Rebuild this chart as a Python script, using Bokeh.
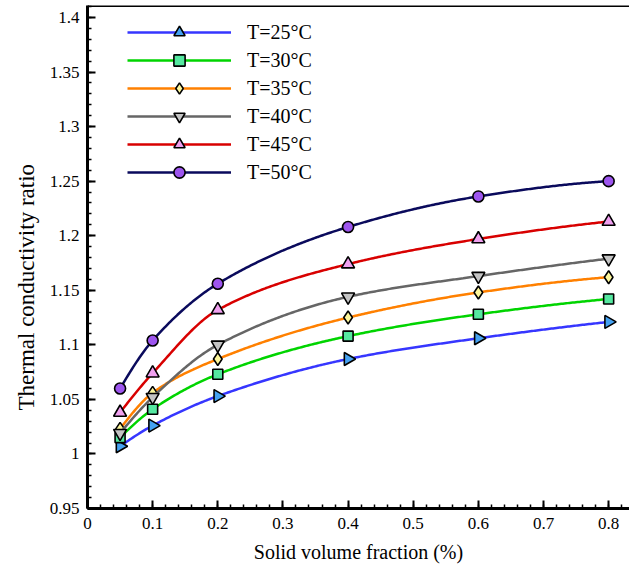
import math
import numpy as np
from bokeh.plotting import figure
from bokeh.models import (Range1d, SingleIntervalTicker, Legend, LegendItem, Span,
                          CustomJSTickFormatter, Title)
from bokeh.embed import file_html
from bokeh.resources import INLINE

# ---------------- data ----------------
phi = [0.05, 0.1, 0.2, 0.4, 0.6, 0.8]
k25 = [1.007, 1.026, 1.053, 1.087, 1.106, 1.121]
k30 = [1.015, 1.041, 1.073, 1.108, 1.128, 1.142]
k35 = [1.023, 1.056, 1.087, 1.125, 1.148, 1.162]
k40 = [1.019, 1.052, 1.100, 1.144, 1.163, 1.179]
k45 = [1.038, 1.074, 1.132, 1.174, 1.197, 1.213]
k50 = [1.060, 1.104, 1.156, 1.208, 1.236, 1.250]
labels = ["T=25°C", "T=30°C", "T=35°C", "T=40°C", "T=45°C", "T=50°C"]
x_title = "Solid volume fraction (%)"
y_title = "Thermal conductivity ratio"

series = [k25, k30, k35, k40, k45, k50]
line_colors = ["#3636ff", "#00d400", "#ff8000", "#666666", "#d80000", "#0a0a5c"]
fill_colors = ["#45a2f2", "#55e8a0", "#fdf79c", "#c4c4c4", "#f0a0f0", "#9d55ee"]
markers = ["triangle", "square", "diamond", "inverted_triangle", "triangle", "circle"]
angles = [-math.pi / 2, 0, 0, 0, 0, 0]
sizes = [13, 10, 13, 13, 13, 11]


def pchip(x, y, xs):
    x = np.asarray(x, float)
    y = np.asarray(y, float)
    h = np.diff(x)
    d = np.diff(y) / h
    n = len(x)
    m = np.zeros(n)
    for k in range(1, n - 1):
        if d[k - 1] * d[k] > 0:
            w1 = 2 * h[k] + h[k - 1]
            w2 = h[k] + 2 * h[k - 1]
            m[k] = (w1 + w2) / (w1 / d[k - 1] + w2 / d[k])

    def end(h0, h1, d0, d1):
        mm = ((2 * h0 + h1) * d0 - h0 * d1) / (h0 + h1)
        if np.sign(mm) != np.sign(d0):
            mm = 0.0
        elif np.sign(d0) != np.sign(d1) and abs(mm) > abs(3 * d0):
            mm = 3 * d0
        return mm

    m[0] = end(h[0], h[1], d[0], d[1])
    m[-1] = end(h[-1], h[-2], d[-1], d[-2])
    idx = np.clip(np.searchsorted(x, xs) - 1, 0, n - 2)
    t = (xs - x[idx]) / h[idx]
    h00 = 2 * t**3 - 3 * t**2 + 1
    h10 = t**3 - 2 * t**2 + t
    h01 = -2 * t**3 + 3 * t**2
    h11 = t**3 - t**2
    return h00 * y[idx] + h10 * h[idx] * m[idx] + h01 * y[idx + 1] + h11 * h[idx] * m[idx + 1]


FONT = "Liberation Serif"
Y_END = 1.411

p = figure(width=629, height=567, output_backend="svg", toolbar_location=None,
           x_range=Range1d(0, 0.832), y_range=Range1d(0.95, Y_END),
           min_border_left=87, min_border_right=0, min_border_top=5, min_border_bottom=59)
p.outline_line_color = None
p.xgrid.visible = False
p.ygrid.visible = False
p.background_fill_color = "white"

fmt = CustomJSTickFormatter(code="return String(parseFloat(tick.toFixed(3)));")
p.xaxis.ticker = SingleIntervalTicker(interval=0.1, num_minor_ticks=5)
p.yaxis.ticker = SingleIntervalTicker(interval=0.05, num_minor_ticks=5)
for ax in p.xaxis + p.yaxis:
    ax.formatter = fmt
    ax.axis_line_width = 3
    ax.axis_line_color = "black"
    ax.major_tick_in = 8
    ax.major_tick_out = 0
    ax.minor_tick_in = 4
    ax.minor_tick_out = 0
    ax.major_tick_line_width = 2
    ax.minor_tick_line_width = 1.5
    ax.major_label_text_font = FONT
    ax.major_label_text_font_size = "17px"
    ax.major_label_text_font_style = "normal"
    ax.major_label_text_color = "black"
    ax.axis_label_text_font = FONT
    ax.axis_label_text_font_size = "20px"
    ax.axis_label_text_font_style = "normal"
    ax.axis_label_text_color = "black"
p.xaxis.axis_label = x_title
p.xaxis.major_label_standoff = 9
p.xaxis.axis_label_standoff = 9
p.yaxis.major_label_standoff = 8

# y-axis title as a side title, anchored near the bottom of the frame
p.add_layout(Title(text=y_title, align="left", offset=98, standoff=16,
                   text_font=FONT, text_font_size="23px", text_font_style="normal",
                   text_color="black"), "left")

p.add_layout(Span(location=Y_END, dimension="width", line_color="black", line_width=3))

xs = np.linspace(phi[0], phi[-1], 300)
items = []
for ys, lab, lc, fc, mk, ang, sz in zip(series, labels, line_colors, fill_colors, markers, angles, sizes):
    lr = p.line(xs, pchip(phi, ys, xs), line_color=lc, line_width=2.5)
    sr = p.scatter(phi, ys, marker=mk, size=sz, angle=ang, fill_color=fc,
                   line_color="black", line_width=1.6)
    items.append(LegendItem(label=lab, renderers=[lr, sr]))

legend = Legend(items=items, location=(40, 322), glyph_width=104, glyph_height=28,
                label_height=28, spacing=0, padding=0, margin=0, label_standoff=16,
                border_line_color=None, background_fill_alpha=0,
                label_text_font=FONT, label_text_font_size="20px", label_text_color="black")
p.add_layout(legend)

open("out.html", "w").write(file_html(p, INLINE))
